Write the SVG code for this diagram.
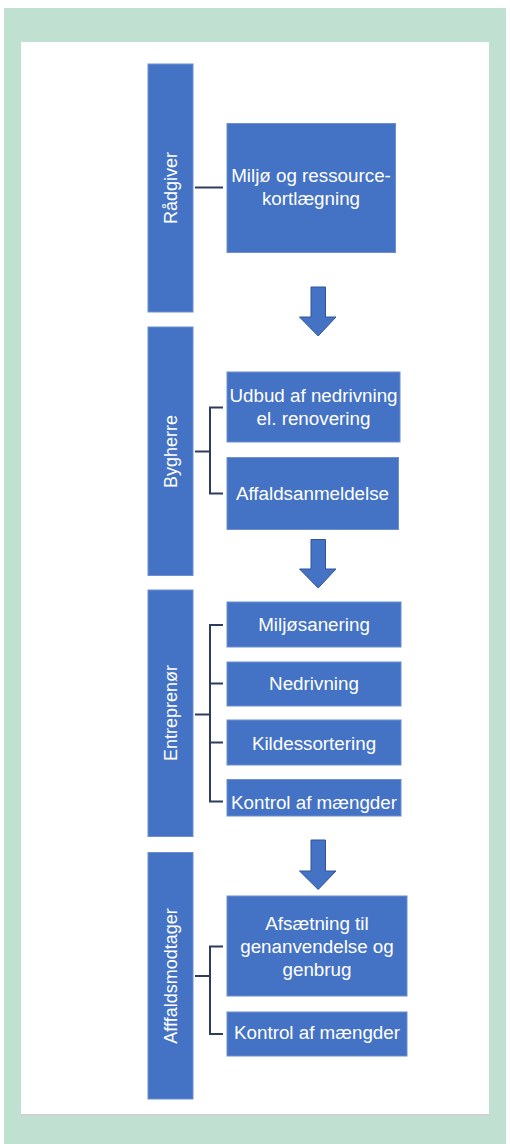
<svg xmlns="http://www.w3.org/2000/svg" width="510" height="1144" viewBox="0 0 510 1144">
<style>
.lane{fill:#4472C4;stroke:#6d8fd0;stroke-width:1}
.box{fill:#4472C4;stroke:#6d8fd0;stroke-width:1}
.t{fill:#ffffff;font-family:"Liberation Sans",Arial,sans-serif;font-size:18.8px;text-anchor:middle}
.lt{fill:#ffffff;font-family:"Liberation Sans",Arial,sans-serif;font-size:18px;text-anchor:middle}
.con{fill:none;stroke:#2c3d5e;stroke-width:2}
.arr{fill:#4472C4;stroke:#2f5597;stroke-width:1}
</style>
<rect x="0" y="0" width="510" height="1144" fill="#ffffff"/>
<rect x="4" y="8" width="502" height="1136" fill="#c0e1d2"/>
<rect x="21" y="42" width="468" height="1073" fill="#ffffff"/>
<line x1="21" y1="1115" x2="489" y2="1115" stroke="#d0d0d0" stroke-width="2"/>

<g id="connectors">
<path class="con" d="M195 187.5 H223"/>
<path class="con" d="M195 451.5 H210 M223 407.5 H210 V493.5 H223"/>
<path class="con" d="M195 714.5 H210 M223 625 H210 V801.5 H223 M210 683.5 H223 M210 742.5 H223"/>
<path class="con" d="M195 976 H210 M223 946.5 H210 V1034 H223"/>
<path class="arr" d="M311 287 H325.5 V317 H336 L318.2 336 L299.5 317 H311 Z"/>
<path class="arr" d="M311 539.5 H325.5 V569 H336 L318.2 588 L299.5 569 H311 Z"/>
<path class="arr" d="M311 840 H325.5 V871 H336 L318.2 889.5 L299.5 871 H311 Z"/>
</g>

<g id="lane-raadgiver">
<rect class="lane" x="148" y="64" width="45" height="248"/>
<text class="lt" transform="translate(176.5,188) rotate(-90)">Rådgiver</text>
</g>
<g id="node-kortlaegning">
<rect class="box" x="227" y="123.5" width="168.5" height="129"/>
<text class="t" x="311" y="182">Miljø og ressource-</text>
<text class="t" x="311" y="204.5">kortlægning</text>
</g>

<g id="lane-bygherre">
<rect class="lane" x="148" y="327" width="45" height="248.5"/>
<text class="lt" transform="translate(176.5,451.5) rotate(-90)">Bygherre</text>
</g>
<g id="node-udbud">
<rect class="box" x="227" y="372" width="173" height="70"/>
<text class="t" x="313.5" y="402">Udbud af nedrivning</text>
<text class="t" x="313.5" y="424.5">el. renovering</text>
</g>
<g id="node-affaldsanmeldelse">
<rect class="box" x="227" y="457.5" width="171.5" height="72"/>
<text class="t" x="312.5" y="500">Affaldsanmeldelse</text>
</g>

<g id="lane-entreprenoer">
<rect class="lane" x="148" y="590" width="45" height="246.5"/>
<text class="lt" transform="translate(176.5,713) rotate(-90)">Entreprenør</text>
</g>
<g id="node-miljoesanering">
<rect class="box" x="227" y="602" width="174" height="45"/>
<text class="t" x="314" y="631">Miljøsanering</text>
</g>
<g id="node-nedrivning">
<rect class="box" x="227" y="662" width="174" height="44"/>
<text class="t" x="314" y="690">Nedrivning</text>
</g>
<g id="node-kildessortering">
<rect class="box" x="227" y="720" width="174" height="45"/>
<text class="t" x="314" y="749.5">Kildessortering</text>
</g>
<g id="node-kontrol1">
<rect class="box" x="227" y="779.5" width="174" height="36.5"/>
<text class="t" x="314" y="809">Kontrol af mængder</text>
</g>

<g id="lane-affaldsmodtager">
<rect class="lane" x="148" y="852.5" width="45" height="246.5"/>
<text class="lt" transform="translate(176.5,976) rotate(-90)">Afffaldsmodtager</text>
</g>
<g id="node-afsaetning">
<rect class="box" x="227" y="896" width="180" height="100"/>
<text class="t" x="317" y="930">Afsætning til</text>
<text class="t" x="317" y="953">genanvendelse og</text>
<text class="t" x="317" y="975.5">genbrug</text>
</g>
<g id="node-kontrol2">
<rect class="box" x="227" y="1012" width="180" height="44"/>
<text class="t" x="317" y="1039">Kontrol af mængder</text>
</g>
</svg>
